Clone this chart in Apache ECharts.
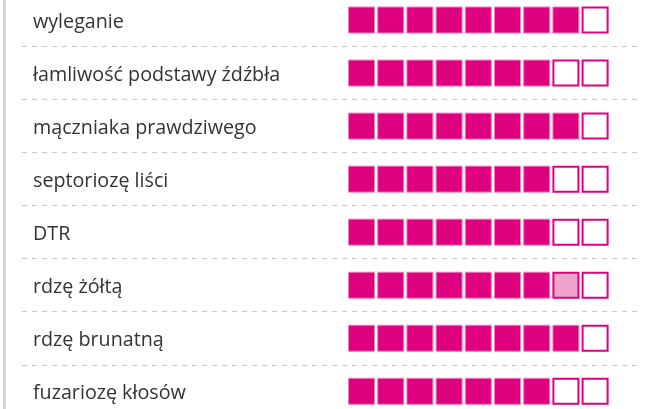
<!DOCTYPE html>
<html>
<head>
<meta charset="utf-8">
<script src="https://cdn.jsdelivr.net/npm/echarts@6/dist/echarts.min.js"></script>
<style>
  html, body { margin: 0; padding: 0; background: #fff; }
  #chart { width: 665px; height: 409px; }
</style>
</head>
<body>
<div id="chart"></div>
<script>
// Resistance ratings on a 9-point scale, one row per trait
const categories = [
  'wyleganie',
  'łamliwość podstawy źdźbła',
  'mączniaka prawdziwego',
  'septoriozę liści',
  'DTR',
  'rdzę żółtą',
  'rdzę brunatną',
  'fuzariozę kłosów'
];
const ratings = [8, 7, 8, 7, 7, 7.5, 8, 7];
const scaleMax = 9;

const MAGENTA = '#df0080';
const styles = {
  full:  { color: MAGENTA, borderColor: '#f27fbd', borderWidth: 1, opacity: 1 },
  half:  { color: '#f0a3c9', borderColor: MAGENTA, borderWidth: 2, opacity: 1 },
  empty: { color: '#ffffff', borderColor: MAGENTA, borderWidth: 2, opacity: 1 }
};

// one box per scale step: filled up to the rating, a pale box for a half step
const boxes = [];
ratings.forEach(function (r, row) {
  for (let k = 0; k < scaleMax; k++) {
    let state = 'empty';
    if (k + 1 <= r) state = 'full';
    else if (k < r) state = 'half';
    boxes.push({
      value: [k, categories[row]],
      symbolSize: state === 'full' ? 26 : 25,
      itemStyle: styles[state]
    });
  }
});

const rowTop = -6.5, rowSpan = 424.3;
const textDrop = 2.5; // labels sit slightly below the box centres
const chart = echarts.init(document.getElementById('chart'));
chart.setOption({
  animation: false,
  graphic: [{
    type: 'rect', left: 3, top: 0,
    shape: { width: 3, height: 409 },
    style: { fill: '#d4d4d4' }, silent: true
  }],
  grid: [
    { left: 346.9, width: 262.8, top: rowTop, height: rowSpan, outerBoundsMode: 'none', containLabel: false },
    { left: 22, width: 618, top: rowTop, height: rowSpan, outerBoundsMode: 'none', containLabel: false },
    { left: 33, width: 300, top: rowTop + textDrop, height: rowSpan, outerBoundsMode: 'none', containLabel: false }
  ],
  xAxis: [
    { gridIndex: 0, type: 'value', min: -0.5, max: scaleMax - 0.5, show: false },
    { gridIndex: 1, type: 'value', min: 0, max: 1, show: false },
    { gridIndex: 2, type: 'value', min: 0, max: 1, show: false }
  ],
  yAxis: [
    {
      gridIndex: 0, type: 'category', data: categories, inverse: true, show: false
    },
    {
      gridIndex: 1, type: 'category', data: categories, inverse: true,
      axisLine: { show: false }, axisTick: { show: false }, axisLabel: { show: false },
      splitLine: {
        show: true, interval: 0,
        lineStyle: { color: '#c8c8c8', width: 1, type: [5, 5] }
      }
    },
    {
      gridIndex: 2, type: 'category', data: categories, inverse: true,
      axisLine: { show: false }, axisTick: { show: false }, splitLine: { show: false },
      axisLabel: {
        interval: 0, align: 'left', margin: 0, inside: true,
        fontFamily: 'Open Sans', fontSize: 19.7, color: '#333333'
      }
    }
  ],
  series: [{
    type: 'scatter', xAxisIndex: 0, yAxisIndex: 0,
    symbol: 'rect', data: boxes, silent: true
  }]
});
</script>
</body>
</html>
